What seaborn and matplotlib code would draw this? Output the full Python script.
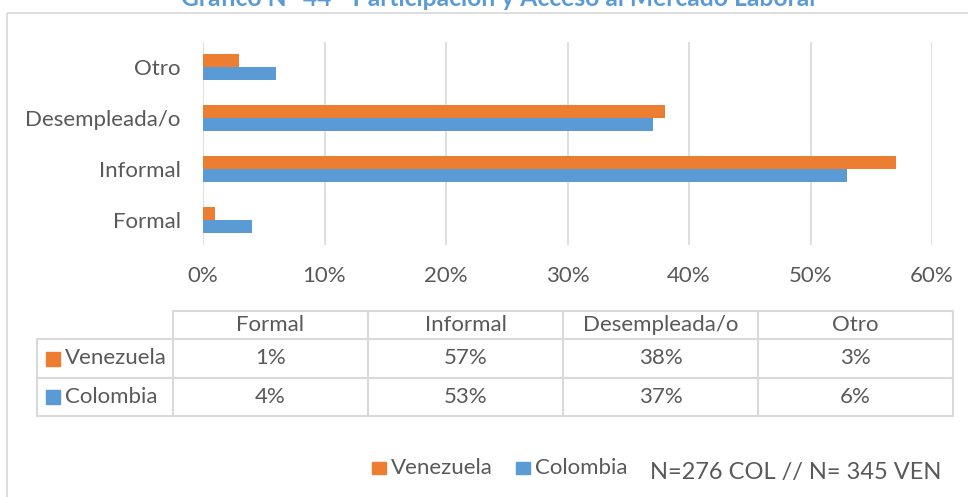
import matplotlib
matplotlib.use("Agg")
import matplotlib.pyplot as plt
from matplotlib.patches import Rectangle
from matplotlib.lines import Line2D
import seaborn as sns
import pandas as pd

# Data
categories = ["Otro", "Desempleada/o", "Informal", "Formal"]
table_order = ["Formal", "Informal", "Desempleada/o", "Otro"]
series = ["Venezuela", "Colombia"]
venezuela = [3, 38, 57, 1]   # % in the order of `categories`
colombia = [6, 37, 53, 4]
x_ticks = [0, 10, 20, 30, 40, 50, 60]
title = "Gráfico N° 44 - Participación y Acceso al Mercado Laboral"
note = "N=276 COL // N= 345 VEN"

ORANGE = "#ED7D31"
BLUE = "#5B9BD5"
TEXT = "#595959"
GRID = "#D9D9D9"
FONT = ["Lato", "DejaVu Sans"]
FS = 16

df = pd.DataFrame({
    "cat": categories * 2,
    "serie": ["Venezuela"] * 4 + ["Colombia"] * 4,
    "val": [v / 100 for v in venezuela + colombia],
})

sns.set_theme(style="white")
plt.rcParams["font.family"] = FONT

W, H = 968, 497
fig = plt.figure(figsize=(W / 100, H / 100), dpi=100)
fig.patch.set_facecolor("white")

# Main bar chart
ax = fig.add_axes([203 / W, 1 - 245 / H, (932 - 203) / W, (245 - 42) / H])
sns.barplot(data=df, y="cat", x="val", hue="serie", order=categories,
            hue_order=series, palette=[ORANGE, BLUE], orient="h",
            width=0.51, linewidth=0, saturation=1, legend=False, ax=ax)
ax.set_xlim(0, 0.6)
ax.set_xticks([t / 100 for t in x_ticks])
ax.set_xticklabels([f"{t}%" for t in x_ticks])
ax.set_xlabel("")
ax.set_ylabel("")
ax.grid(axis="x", color=GRID, linewidth=1.2)
ax.grid(axis="y", visible=False)
ax.set_axisbelow(True)
for s in ax.spines.values():
    s.set_visible(False)
ax.tick_params(axis="x", length=0, pad=15, labelsize=FS, labelcolor=TEXT)
ax.tick_params(axis="y", length=0, pad=16, labelsize=FS, labelcolor=TEXT)

# Overlay in pixel coordinates for frame, title, table and legend
ov = fig.add_axes([0, 0, 1, 1], facecolor="none")
ov.set_xlim(0, W)
ov.set_ylim(H, 0)
ov.axis("off")
ov.add_patch(Rectangle((7, 13), W + 20, H, fill=False, edgecolor=GRID,
                       linewidth=1.2, clip_on=False))
ov.text(498, 6, title, ha="center", va="baseline", fontsize=17.7,
        fontweight="bold", color=BLUE)

# Data table under the axis
col_edges = [173, 368, 563, 758, 953]
row_edges = [311, 339, 378, 416]
lw = 1.5
ov.add_line(Line2D([173, 953], [311, 311], color=GRID, lw=lw))
for y in row_edges[1:]:
    ov.add_line(Line2D([37, 953], [y, y], color=GRID, lw=lw))
ov.add_line(Line2D([37, 37], [339, 416], color=GRID, lw=lw))
for x in col_edges:
    ov.add_line(Line2D([x, x], [311, 416], color=GRID, lw=lw))

centers = [(col_edges[i] + col_edges[i + 1]) / 2 for i in range(4)]
row_mid = [(row_edges[i] + row_edges[i + 1]) / 2 for i in range(3)]
for cx, cat in zip(centers, table_order):
    ov.text(cx, row_mid[0], cat, ha="center", va="center",
            fontsize=FS, color=TEXT)
vals = {"Venezuela": dict(zip(categories, venezuela)),
        "Colombia": dict(zip(categories, colombia))}
for r, (name, colr) in enumerate(zip(series, [ORANGE, BLUE])):
    ym = row_mid[r + 1]
    ov.add_patch(Rectangle((46, ym - 7), 14, 14, color=colr))
    ov.text(65, ym, name, ha="left", va="center", fontsize=FS, color=TEXT)
    for cx, cat in zip(centers, table_order):
        ov.text(cx, ym, f"{vals[name][cat]}%", ha="center", va="center",
                fontsize=FS, color=TEXT)

# Legend and sample note
ov.add_patch(Rectangle((372, 462), 14, 12, color=ORANGE))
ov.text(391, 468, "Venezuela", ha="left", va="center", fontsize=FS, color=TEXT)
ov.add_patch(Rectangle((516, 462), 14, 12, color=BLUE))
ov.text(535, 468, "Colombia", ha="left", va="center", fontsize=FS, color=TEXT)
ov.text(650, 473, note, ha="left", va="center", fontsize=17, color=TEXT)

fig.savefig("out.png", dpi=100)
